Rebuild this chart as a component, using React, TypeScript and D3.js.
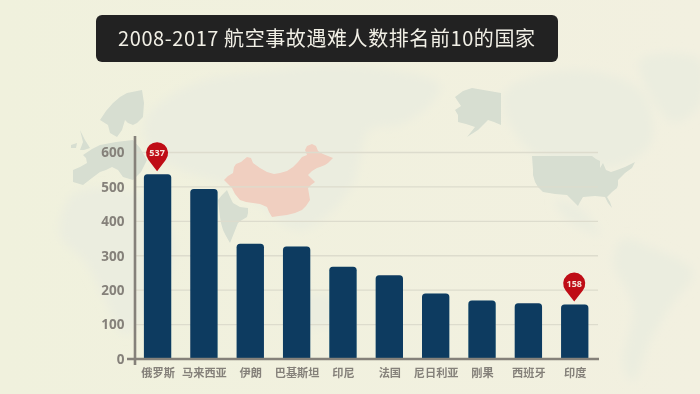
import React from "react";
import * as d3 from "d3";

const categories = ["俄罗斯", "马来西亚", "伊朗", "巴基斯坦", "印尼", "法国", "尼日利亚", "刚果", "西班牙", "印度"];
const fatalities = [537, 494, 335, 327, 268, 243, 190, 170, 162, 158];
const pinned = ["俄罗斯", "印度"];
const yTicks = [0, 100, 200, 300, 400, 500, 600];
const title = "2008-2017 航空事故遇难人数排名前10的国家";

type P = [number, number];
const china: P[] = [[224,180],[228,176],[233,173],[234,167],[236,164],[241,162],[247,157],[251,158],[253,163],[260,168],[267,172],[274,174],[280,173],[287,171],[293,167],[298,162],[302,157],[307,155],[305,150],[307,146],[312,144],[316,146],[318,151],[323,154],[333,158],[328,163],[325,165],[320,167],[317,168],[312,171],[308,175],[311,178],[315,182],[311,185],[308,188],[309,194],[310,200],[306,206],[302,210],[295,213],[287,215],[279,216],[272,217],[269,212],[267,207],[260,204],[253,203],[246,202],[240,200],[235,194],[232,188]];
const darkLand: P[][] = [
  [[218,200],[222,195],[227,190],[230,197],[233,203],[240,207],[248,208],[248,213],[247,217],[242,220],[238,223],[234,233],[230,243],[226,236],[223,230],[221,223],[220,217]],
  [[532,156],[592,156],[596,159],[600,161],[600,168],[603,163],[606,170],[611,172],[617,170],[625,167],[635,162],[632,168],[625,173],[618,180],[618,185],[617,188],[612,192],[607,197],[610,202],[612,208],[608,203],[605,197],[595,196],[583,197],[580,202],[578,206],[572,200],[567,195],[555,194],[543,192],[538,187],[535,182],[533,175],[533,170]],
  [[455,97],[463,91],[472,88],[501,93],[501,125],[494,122],[488,120],[483,125],[478,130],[467,137],[475,127],[466,124],[458,122],[458,115],[455,110],[461,106]],
  [[100,120],[106,111],[113,103],[120,97],[127,93],[142,90],[144,103],[143,117],[137,123],[133,125],[128,123],[125,120],[122,130],[117,137],[110,133],[108,125]],
  [[73,170],[80,167],[87,163],[86,158],[83,155],[92,149],[100,145],[116,142],[133,140],[140,148],[147,160],[141,172],[133,180],[123,177],[118,170],[112,167],[106,170],[100,172],[92,178],[83,185],[73,182]],
  [[80,130],[85,140],[90,148],[84,150],[80,150],[83,142]],
  [[71,145],[77,143],[76,148],[71,148]],
];
const faintLand: P[][] = [
  [[613,261],[623,239],[650,247],[693,272],[670,307],[650,341],[633,381],[623,364],[633,307]],
  [[60,235],[72,195],[110,188],[150,200],[175,250],[155,300],[125,335],[105,300],[85,262]],
  [[145,120],[190,85],[270,70],[350,65],[440,85],[430,105],[400,125],[370,130],[350,190],[300,230],[240,190],[180,170],[150,150]],
  [[503,95],[570,70],[640,90],[652,140],[620,165],[535,155]],
  [[640,60],[700,60],[700,105],[672,122]],
  [[283,310],[300,296],[333,297],[335,322],[300,326]],
  [[555,200],[580,208],[600,235],[585,230],[565,218]],
];

const W = 700, H = 394;
const y = d3.scaleLinear().domain([0, 600]).range([359, 152.5]);
const x = d3.scaleBand<string>().domain(categories).range([134.4, 597.9]).paddingInner(0.41).paddingOuter(0.205);
const smooth = d3.line<P>().curve(d3.curveCatmullRomClosed.alpha(0.5));
const sharp = d3.line<P>().curve(d3.curveLinearClosed);
const R = 3.5;

function barPath(x0: number, w: number, top: number, base: number) {
  const p = d3.path();
  p.moveTo(x0, base);
  p.lineTo(x0, top + R);
  p.quadraticCurveTo(x0, top, x0 + R, top);
  p.lineTo(x0 + w - R, top);
  p.quadraticCurveTo(x0 + w, top, x0 + w, top + R);
  p.lineTo(x0 + w, base);
  p.closePath();
  return p.toString();
}

function pinPath(cx: number, tip: number) {
  const r = 11, cy = tip - 18;
  const a = Math.atan2(r * 0.62, r * 0.78);
  const p = d3.path();
  p.moveTo(cx, tip);
  p.lineTo(cx - r * 0.78, cy + r * 0.62);
  p.arc(cx, cy, r, Math.PI - a, a);
  p.closePath();
  return p.toString();
}

const sans = "'Noto Sans CJK SC', 'Noto Sans', sans-serif";
const latin = "'Open Sans', 'Noto Sans', sans-serif";
const axisColor = "#85817a";

export default function App() {
  return (
    <svg width={W} height={H} viewBox={`0 0 ${W} ${H}`} style={{ position: "fixed", left: 0, top: 0, display: "block" }}>
      <defs>
        <linearGradient id="bg" x1="0" x2="1" y1="0" y2="0">
          <stop offset="0" stopColor="#f0f1dd" />
          <stop offset="1" stopColor="#f2f0e0" />
        </linearGradient>
        <filter id="soft" x="-20%" y="-20%" width="140%" height="140%"><feGaussianBlur stdDeviation="5" /></filter>
        <filter id="crisp"><feGaussianBlur stdDeviation="0.45" /></filter>
      </defs>
      <rect width={W} height={H} fill="url(#bg)" />
      <g filter="url(#soft)" fill="#ebeddf">
        {faintLand.map((s, i) => <path key={i} d={smooth(s) ?? ""} />)}
      </g>
      <g filter="url(#crisp)">
        <g fill="#d7ded1">
          {darkLand.map((s, i) => <path key={i} d={sharp(s) ?? ""} />)}
        </g>
        <path d={sharp(china) ?? ""} fill="#f0cfc0" />

        {yTicks.filter((t) => t > 0).map((t) => (
          <line key={t} x1={135} x2={598} y1={y(t)} y2={y(t)} stroke="#dddccd" strokeWidth={1.3} />
        ))}

        {categories.map((c, i) => (
          <path key={c} d={barPath(x(c)!, x.bandwidth(), y(fatalities[i]), y(0))} fill="#0a3b61" />
        ))}

        <line x1={135} x2={135} y1={136} y2={365} stroke={axisColor} strokeWidth={2.6} />
        <line x1={127} x2={599} y1={y(0)} y2={y(0)} stroke={axisColor} strokeWidth={2.6} />

        {yTicks.map((t) => (
          <text key={t} x={124.5} y={y(t)} dy="0.36em" textAnchor="end" fontFamily={latin} fontWeight={700} fontSize={13.5} fill={axisColor}>{t}</text>
        ))}

        {categories.map((c) => (
          <text key={c} x={x(c)! + x.bandwidth() / 2 + 0.5} y={372.5} dy="0.36em" textAnchor="middle" fontFamily={sans} fontWeight={700} fontSize={11.2} fill={axisColor}>{c}</text>
        ))}

        {categories.map((c, i) => {
          if (!pinned.includes(c)) return null;
          const cx = x(c)! + x.bandwidth() / 2 - 0.5;
          const tip = y(fatalities[i]) - 3;
          return (
            <g key={c}>
              <path d={pinPath(cx, tip)} fill="#bf0a14" />
              <text x={cx} y={tip - 18} dy="0.36em" textAnchor="middle" fontFamily={latin} fontWeight={700} fontSize={9} fill="#f6e6dc">{fatalities[i]}</text>
            </g>
          );
        })}

        <rect x={96} y={15} width={462} height={47} rx={6} fill="#232122" />
        <text x={326.5} y={38.5} dy="0.36em" textAnchor="middle" textLength={417} lengthAdjust="spacing" fontFamily={sans} fontWeight={400} fontSize={20} fill="#f1f0e6">{title}</text>
      </g>
    </svg>
  );
}
